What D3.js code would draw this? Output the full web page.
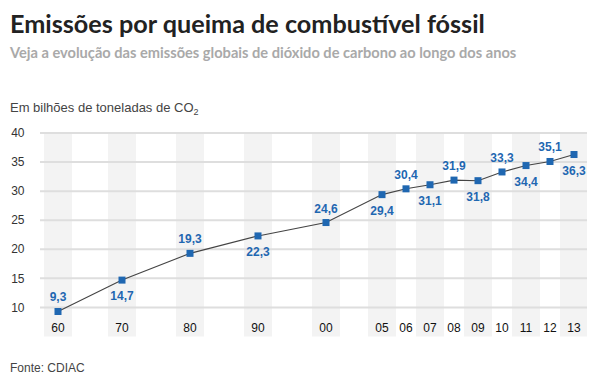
<!DOCTYPE html>
<html>
<head>
<meta charset="utf-8">
<script src="https://cdn.jsdelivr.net/npm/d3@7"></script>
<style>
  html, body { margin: 0; padding: 0; background: #fff; }
  svg { display: block; }
</style>
</head>
<body>
<svg id="chart" width="600" height="382"></svg>
<script>
// ---- data ----
const years = [1960, 1970, 1980, 1990, 2000, 2005, 2006, 2007, 2008, 2009, 2010, 2011, 2012, 2013];
const yearLabels = ["60", "70", "80", "90", "00", "05", "06", "07", "08", "09", "10", "11", "12", "13"];
const emissions = [9.3, 14.7, 19.3, 22.3, 24.6, 29.4, 30.4, 31.1, 31.9, 31.8, 33.3, 34.4, 35.1, 36.3];
const valueLabels = ["9,3", "14,7", "19,3", "22,3", "24,6", "29,4", "30,4", "31,1", "31,9", "31,8", "33,3", "34,4", "35,1", "36,3"];
const shaded = [true, true, true, true, true, true, false, true, false, true, false, true, false, true];
const yTicks = [10, 15, 20, 25, 30, 35, 40];
const title = "Emissões por queima de combustível fóssil";
const subtitle = "Veja a evolução das emissões globais de dióxido de carbono ao longo dos anos";
const unitLabel = "Em bilhões de toneladas de CO";
const source = "Fonte: CDIAC";

const svg = d3.select("#chart");
const plotLeft = 40, plotRight = 587;

// piecewise x scale (the chart compresses decades vs. recent years)
const x = d3.scaleLinear()
  .domain([1960, 1970, 2000, 2005, 2013])
  .range([58, 122, 326, 382, 574]);
const y = d3.scaleLinear().domain([5, 40]).range([336.5, 133]);

const blue = "#1f67b1";

// bands
svg.append("g").selectAll("rect")
  .data(years.filter((d, i) => shaded[i]))
  .join("rect")
  .attr("x", d => Math.max(plotLeft, x(d) - 14))
  .attr("width", d => Math.min(x(d) + 14, plotRight) - Math.max(plotLeft, x(d) - 14))
  .attr("y", y(40))
  .attr("height", y(5) - y(40))
  .attr("fill", "#f3f3f3");

// gridlines
svg.append("g").selectAll("line")
  .data(yTicks)
  .join("line")
  .attr("x1", plotLeft).attr("x2", plotRight)
  .attr("y1", d => y(d)).attr("y2", d => y(d))
  .attr("stroke", "#dedede").attr("stroke-width", 2);

// y labels
svg.append("g").selectAll("text")
  .data(yTicks)
  .join("text")
  .attr("x", 24.5).attr("y", d => y(d)).attr("dy", "0.35em")
  .attr("text-anchor", "end")
  .attr("font-family", "Arial, 'Liberation Sans', sans-serif")
  .attr("font-size", 12).attr("fill", "#333")
  .text(d => d);

// x labels
svg.append("g").selectAll("text")
  .data(years)
  .join("text")
  .attr("x", d => x(d)).attr("y", 331.5)
  .attr("text-anchor", "middle")
  .attr("font-family", "Arial, 'Liberation Sans', sans-serif")
  .attr("font-size", 12).attr("fill", "#111")
  .text((d, i) => yearLabels[i]);

// line
const pts = years.map((d, i) => [d, emissions[i]]);
svg.append("path")
  .datum(pts)
  .attr("fill", "none").attr("stroke", "#444").attr("stroke-width", 1.1)
  .attr("d", d3.line().x(d => x(d[0])).y(d => y(d[1])));

// markers
svg.append("g").selectAll("rect")
  .data(pts)
  .join("rect")
  .attr("x", d => x(d[0]) - 3.5).attr("y", d => y(d[1]) - 3.5)
  .attr("width", 7).attr("height", 7)
  .attr("fill", blue);

// value labels (alternate above / below)
svg.append("g").selectAll("text")
  .data(pts)
  .join("text")
  .attr("x", d => x(d[0]))
  .attr("y", (d, i) => i % 2 === 0 ? y(d[1]) - 10 : y(d[1]) + 20)
  .attr("text-anchor", "middle")
  .attr("font-family", "Arial, 'Liberation Sans', sans-serif")
  .attr("font-weight", "bold")
  .attr("font-size", 12).attr("fill", blue)
  .text((d, i) => valueLabels[i]);

// title and subtitle
function fit(sel, target) {
  const len = sel.node().getComputedTextLength();
  const fs = parseFloat(sel.attr("font-size"));
  sel.attr("font-size", fs * target / len);
}
const t = svg.append("text")
  .attr("x", 10).attr("y", 33)
  .attr("font-family", "Lato, sans-serif").attr("font-weight", 700)
  .attr("font-size", 28).attr("fill", "#222")
  .text(title);
fit(t, 475);
const st = svg.append("text")
  .attr("x", 10).attr("y", 58)
  .attr("font-family", "Lato, sans-serif").attr("font-weight", 700)
  .attr("font-size", 15).attr("fill", "#a9a9a9")
  .text(subtitle);
fit(st, 507);

// unit label with subscript
const u = svg.append("text")
  .attr("x", 10).attr("y", 112)
  .attr("font-family", "Arial, 'Liberation Sans', sans-serif")
  .attr("font-size", 13).attr("fill", "#444");
u.append("tspan").text(unitLabel);
u.append("tspan").attr("font-size", 9).attr("dy", 3).text("2");

// source
svg.append("text")
  .attr("x", 10).attr("y", 372)
  .attr("font-family", "Arial, 'Liberation Sans', sans-serif")
  .attr("font-size", 12).attr("fill", "#444")
  .text(source);
</script>
</body>
</html>
